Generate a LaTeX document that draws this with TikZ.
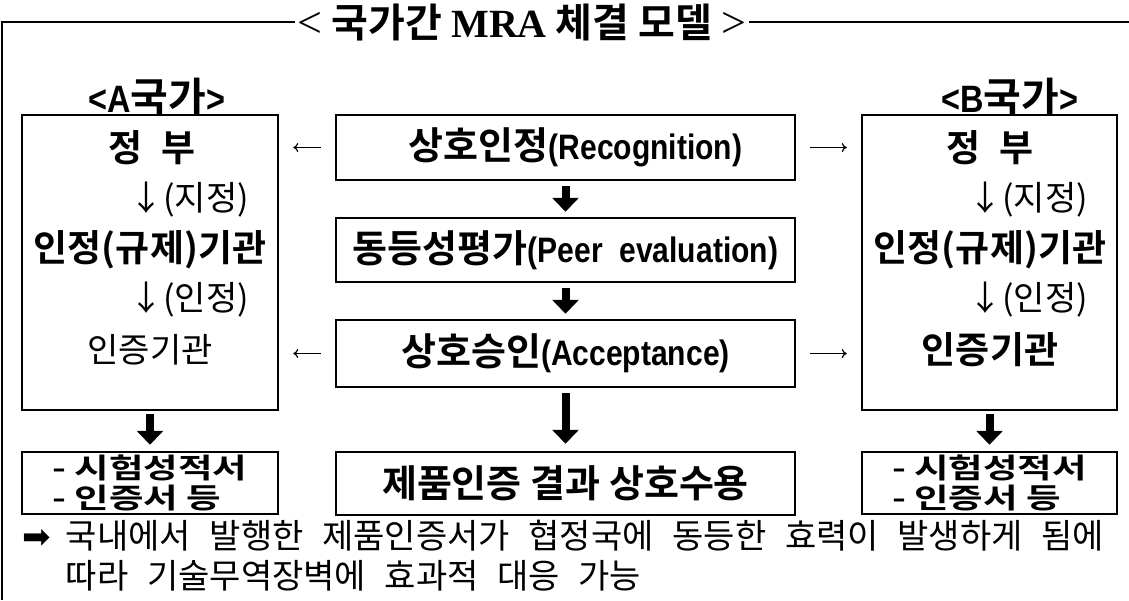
\documentclass[tikz,border=0pt]{standalone}
\usepackage{fontspec}
\setmainfont{Noto Sans CJK KR}[BoldFont={Noto Sans CJK KR Bold}]
\newfontfamily\lat{Liberation Sans}[Scale=0.93,FakeStretch=0.85]
\newfontfamily\latser{Liberation Serif}
\newfontfamily\wide{Noto Sans CJK KR}[BoldFont={Noto Sans CJK KR Bold},FakeStretch=1.34]
\newfontfamily\dejavu{DejaVu Sans}
\usetikzlibrary{arrows.meta}
\newcommand\E[1]{{\lat #1}}
\newcommand\gap{\hspace{0.55em}}
\begin{document}
\begin{tikzpicture}[x=1pt,y=-1pt,
  box/.style={draw,line width=2.5pt,rectangle,inner sep=0pt},
  bigarrow/.style={line width=8pt,-{Triangle[width=26pt,length=14pt]}},
  thinarrow/.style={line width=1.2pt,-{To[length=5pt,width=9pt]},shorten <=14pt,shorten >=14pt},
  frame/.style={line width=1.3pt},
  bt/.style={font=\fontsize{37}{38}\selectfont\bfseries},
  rt/.style={font=\fontsize{34}{36}\selectfont},
  ct/.style={font=\fontsize{38}{40}\selectfont\bfseries},
  bot/.style={font=\wide\fontsize{28}{30}\selectfont\bfseries,align=left},
  note/.style={font=\fontsize{34}{40}\selectfont,align=left,anchor=north west,inner sep=0pt}
]
\useasboundingbox (0,0) rectangle (1129,600);
% title and frame
\node[fill=white,inner xsep=3pt,inner ysep=0pt,font=\fontsize{40}{42}\selectfont\bfseries] (title) at (522,22)
  {{\latser\mdseries\fontsize{44}{44}\selectfont <} 국가간 {\latser MRA} 체결 모델 {\latser\mdseries\fontsize{44}{44}\selectfont >}};
\draw[frame] (title.west) -- (2,22) -- (2,600);
\draw[frame] (title.east) -- (1129,22);
% country labels
\node[font=\fontsize{41}{42}\selectfont\bfseries] (la) at (157,97) {\E{<A}국가\E{>}};
\node[font=\fontsize{41}{42}\selectfont\bfseries] (lb) at (1010,97) {\E{<B}국가\E{>}};
% big side boxes
\node[box,minimum width=256pt,minimum height=295pt] (A) at (150,262.5) {};
\node[box,minimum width=255pt,minimum height=295pt] (B) at (989.5,262.5) {};
% left box text
\node[bt] (a1) at (152,148) {정\hspace{0.5em}부};
\node[rt] (a2) at (189,200) {↓(지정)};
\node[bt] (a3) at (150,250) {인정(규제)기관};
\node[rt] (a4) at (189,300) {↓(인정)};
\node[rt] (a5) at (150,350) {인증기관};
% right box text
\node[bt] (b1) at (990,148) {정\hspace{0.5em}부};
\node[rt] (b2) at (1028,200) {↓(지정)};
\node[bt] (b3) at (990,250) {인정(규제)기관};
\node[rt] (b4) at (1028,300) {↓(인정)};
\node[bt] (b5) at (990,350) {인증기관};
% centre boxes
\node[box,ct,minimum width=459pt,minimum height=65pt] (c1) at (565.5,147.5) {\hspace*{20pt}상호인정\E{(Recognition)}};
\node[box,ct,minimum width=459pt,minimum height=64pt] (c2) at (565.5,250) {동등성평가\E{(Peer\ \ evaluation)}};
\node[box,ct,minimum width=459pt,minimum height=67pt] (c3) at (565.5,353.5) {상호승인\E{(Acceptance)}};
\node[box,ct,minimum width=459pt,minimum height=63pt] (c4) at (565.5,483.5) {제품인증\ 결과\ 상호수용};
% bottom side boxes
\node[box,bot,minimum width=256pt,minimum height=62pt] (Ab) at (150,483) {-\ 시험성적서\\-\ 인증서\ 등};
\node[box,bot,minimum width=255pt,minimum height=62pt] (Bb) at (989.5,483) {-\ 시험성적서\\-\ 인증서\ 등};
% thick arrows
\draw[bigarrow,shorten <=5pt,shorten >=5pt] (c1) -- (c2);
\draw[bigarrow,shorten <=5pt,shorten >=5pt] (c2) -- (c3);
\draw[bigarrow,shorten <=5pt,shorten >=7pt] (c3) -- (c4);
\draw[bigarrow,shorten <=3pt,shorten >=6pt] (A.south) -- (Ab.north);
\draw[bigarrow,shorten <=3pt,shorten >=6pt] (B.south) -- (Bb.north);
% thin arrows
\draw[thinarrow] (c1.west) -- (c1.west -| A.east);
\draw[thinarrow] (c3.west) -- (c3.west -| A.east);
\draw[thinarrow] (c1.east) -- (c1.east -| B.west);
\draw[thinarrow] (c3.east) -- (c3.east -| B.west);
% note
\node[note] (n) at (22,520) {{\dejavu ➡}\ \ 국내에서\gap 발행한\gap 제품인증서가\gap 협정국에\gap 동등한\gap 효력이\gap 발생하게\gap 됨에\\
\phantom{{\dejavu ➡}\ \ }따라\gap 기술무역장벽에\gap 효과적\gap 대응\gap 가능};
\end{tikzpicture}
\end{document}
